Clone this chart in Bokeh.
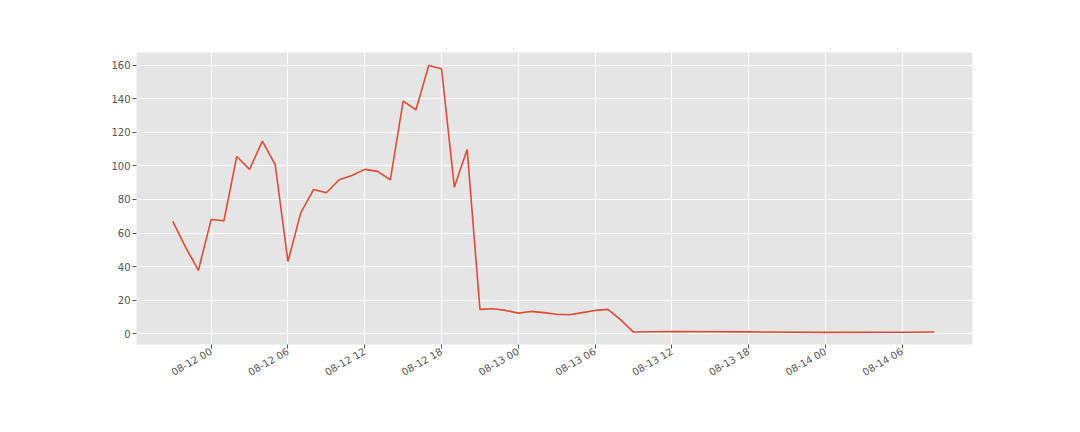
import math
import pandas as pd
from bokeh.plotting import figure
from bokeh.models import ColumnDataSource, FixedTicker, DatetimeTickFormatter, Range1d
from bokeh.embed import file_html
from bokeh.resources import INLINE

# ---- data ----
hourly_start = "2020-08-11 21:00"
hourly_values = [66.9, 51.6, 37.7, 68.0, 67.3, 105.6, 97.9, 114.7, 100.8, 43.0,
                 72.0, 85.9, 84.0, 91.7, 94.3, 97.9, 96.7, 91.7, 138.5, 133.4,
                 159.8, 157.8, 87.3, 109.8, 14.5, 14.9, 13.9, 12.3, 13.3, 12.6,
                 11.6, 11.3, 12.6, 13.9, 14.5, 8.3, 1.0]
tail_times = ["2020-08-13 12:00", "2020-08-13 18:00", "2020-08-14 00:00",
              "2020-08-14 06:00", "2020-08-14 08:30"]
tail_values = [1.3, 1.1, 0.8, 0.9, 1.0]
x_tick_labels = ["08-12 00", "08-12 06", "08-12 12", "08-12 18", "08-13 00",
                 "08-13 06", "08-13 12", "08-13 18", "08-14 00", "08-14 06"]
y_ticks = [0, 20, 40, 60, 80, 100, 120, 140, 160]

times = list(pd.date_range(hourly_start, periods=len(hourly_values), freq="h")) + \
    [pd.Timestamp(t) for t in tail_times]
values = hourly_values + tail_values
src = ColumnDataSource(dict(t=times, v=values))

def ms(ts):
    return pd.Timestamp(ts).value / 1e6

tick_ms = [ms("2020-" + lbl + ":00") for lbl in x_tick_labels]

p = figure(width=1064, height=416, x_axis_type="datetime",
           output_backend="svg", toolbar_location=None,
           x_range=Range1d(ms("2020-08-11 18:10"), ms("2020-08-14 11:29")),
           y_range=Range1d(-6.4, 167.5),
           min_border_left=136, min_border_top=52,
           min_border_right=92, min_border_bottom=72)
p.background_fill_color = "#E5E5E5"
p.border_fill_color = "white"
p.outline_line_color = None

p.line("t", "v", source=src, line_color="#E24A33", line_width=1.6)

p.xaxis.ticker = FixedTicker(ticks=tick_ms)
fmt = "%m-%d %H"
p.xaxis.formatter = DatetimeTickFormatter(hours=fmt, hourmin=fmt, days=fmt,
                                          months=fmt, minutes=fmt, minsec=fmt)
p.yaxis.ticker = FixedTicker(ticks=y_ticks)

for ax in (p.xaxis, p.yaxis):
    ax.axis_line_color = None
    ax.major_tick_line_color = "#555555"
    ax.major_tick_out = 4
    ax.major_tick_in = 0
    ax.minor_tick_line_color = None
    ax.major_label_text_color = "#555555"
    ax.major_label_text_font = "DejaVu Sans"
    ax.major_label_text_font_size = "10px"
    ax.major_label_standoff = 2

p.xaxis.major_label_orientation = math.pi / 6

p.grid.grid_line_color = "white"
p.grid.grid_line_width = 1

open("out.html", "w").write(file_html(p, INLINE))
